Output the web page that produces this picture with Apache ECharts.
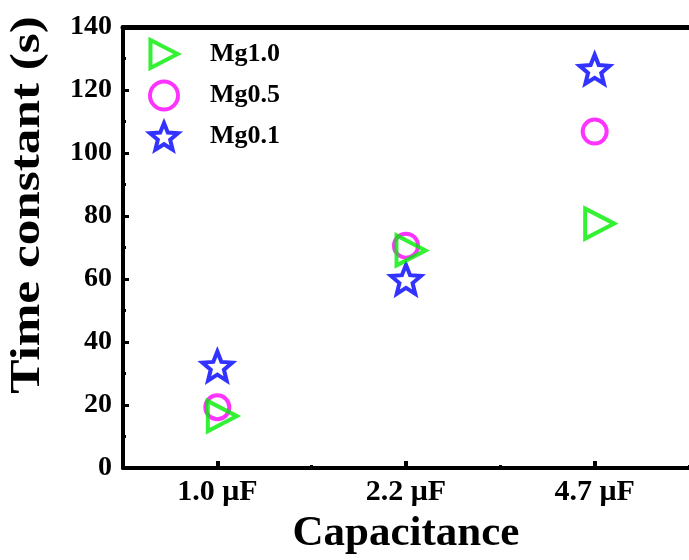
<!DOCTYPE html>
<html><head><meta charset="utf-8">
<script src="https://cdn.jsdelivr.net/npm/echarts@6/dist/echarts.min.js"></script>
<style>html,body{margin:0;padding:0;background:#fff}#c{width:689px;height:560px}</style>
</head><body><div id="c"></div>
<script>
const categories = ['1.0 \u03bcF', '2.2 \u03bcF', '4.7 \u03bcF'];
const seriesNames = ['Mg1.0', 'Mg0.5', 'Mg0.1'];
const mg10 = [16.5, 69.1, 77.6];
const mg05 = [19.3, 70.6, 106.8];
const mg01 = [32.4, 59.9, 126.6];
const yMin = 0, yMax = 140, yInterval = 20;

const FONT = '"Liberation Serif", "Times New Roman", serif';
const triPath = 'path://M0,0L30,15.5L0,31Z';
const starPath = 'path://M50,0L62.93,32.2L97.55,34.55L70.92,56.8L79.39,90.45L50,72L20.61,90.45L29.08,56.8L2.45,34.55L37.07,32.2Z';

const chart = echarts.init(document.getElementById('c'));
chart.setOption({
  backgroundColor: '#fff',
  animation: false,
  grid: { left: 123, right: 0, top: 27, bottom: 91, containLabel: false },
  legend: {
    orient: 'vertical', left: 143, top: 33,
    itemWidth: 28, itemHeight: 28, itemGap: 9.5,
    data: seriesNames,
    itemStyle: { borderWidth: 4 },
    textStyle: { fontFamily: FONT, fontWeight: 'bold', fontSize: 26, color: '#000', padding: [0, 0, 0, 27] }
  },
  graphic: [{
    type: 'text', x: 28, y: 205, rotation: Math.PI / 2, scaleX: 1.22,
    style: { text: 'Time constant (s)', font: 'bold 42px "Liberation Serif"', fill: '#000', textAlign: 'center', textVerticalAlign: 'middle' }
  }],
  xAxis: [
    {
      type: 'category', data: categories, position: 'bottom', boundaryGap: true,
      axisLine: { show: true, lineStyle: { color: '#000', width: 4 } },
      axisTick: { show: true, inside: true, alignWithLabel: true, length: 7, lineStyle: { color: '#000', width: 4 } },
      axisLabel: { fontFamily: FONT, fontWeight: 'bold', fontSize: 30, color: '#000', margin: 9 },
      name: 'Capacitance', nameLocation: 'middle', nameGap: 39,
      nameTextStyle: { fontFamily: FONT, fontWeight: 'bold', fontSize: 43, color: '#000' },
      splitLine: { show: false }
    },
    {
      type: 'category', data: categories, position: 'bottom', boundaryGap: true,
      axisLine: { show: false },
      axisTick: { show: true, inside: true, alignWithLabel: false, interval: 0, length: 3, lineStyle: { color: '#000', width: 3 } },
      axisLabel: { show: false }, splitLine: { show: false }
    },
    {
      type: 'category', data: categories, position: 'top', boundaryGap: true,
      axisLine: { show: true, lineStyle: { color: '#000', width: 5 } },
      axisTick: { show: false }, axisLabel: { show: false }, splitLine: { show: false }
    }
  ],
  yAxis: {
    type: 'value', min: yMin, max: yMax, interval: yInterval,
    axisLine: { show: true, lineStyle: { color: '#000', width: 4 } },
    axisTick: { show: true, inside: true, length: 6, lineStyle: { color: '#000', width: 3 } },
    minorTick: { show: true, splitNumber: 2, length: 3, lineStyle: { color: '#000', width: 3 } },
    axisLabel: { fontFamily: FONT, fontWeight: 'bold', fontSize: 28, color: '#000', margin: 11 },
    splitLine: { show: false }
  },
  series: [
    {
      name: seriesNames[0], type: 'scatter', data: mg10, z: 4,
      symbol: triPath, symbolSize: [29, 30], symbolOffset: [5, 0],
      itemStyle: { color: 'rgba(255,255,255,0)', borderColor: '#00ee00', borderWidth: 4 }
    },
    {
      name: seriesNames[1], type: 'scatter', data: mg05, z: 3,
      symbol: 'circle', symbolSize: 24,
      itemStyle: { color: 'rgba(255,255,255,0)', borderColor: '#ff00ff', borderWidth: 4 }
    },
    {
      name: seriesNames[2], type: 'scatter', data: mg01, z: 2,
      symbol: starPath, symbolSize: [30, 29],
      itemStyle: { color: 'rgba(255,255,255,0)', borderColor: '#0000ff', borderWidth: 4 }
    }
  ]
});
</script>
</body></html>
